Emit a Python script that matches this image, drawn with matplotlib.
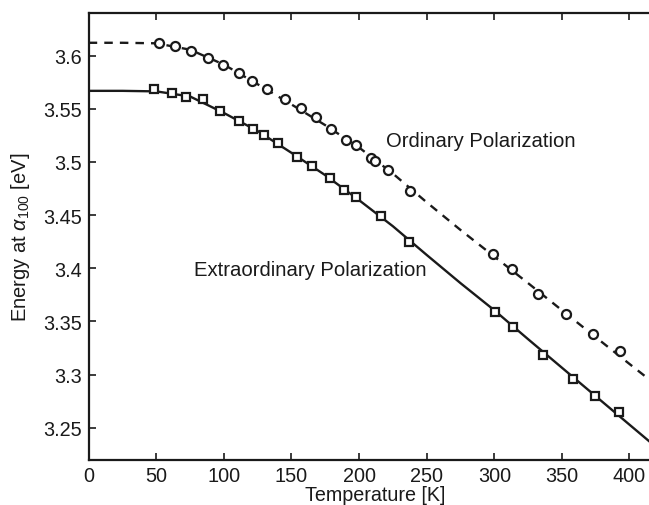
import matplotlib
matplotlib.use("Agg")
import matplotlib.pyplot as plt

plt.rcParams['font.family'] = ['Liberation Sans', 'DejaVu Sans']
plt.rcParams['mathtext.fontset'] = 'custom'
plt.rcParams['mathtext.rm'] = 'Liberation Sans'
plt.rcParams['mathtext.it'] = 'Liberation Sans:italic'

# measured points, ordinary polarization (circles)
temp_ord = [52, 64, 76, 88.5, 99, 111, 121, 132, 145, 157, 168, 179, 190, 198,
            208.5, 212, 221.5, 238, 299, 313, 332.5, 353, 373, 393]
energy_ord = [3.6119, 3.6088, 3.6047, 3.5978, 3.5913, 3.5838, 3.5763, 3.5681,
              3.5587, 3.5507, 3.5419, 3.5306, 3.5207, 3.5156, 3.5038, 3.5010,
              3.4922, 3.4729, 3.4132, 3.3994, 3.3759, 3.3569, 3.3382, 3.3219]

# measured points, extraordinary polarization (squares)
temp_ext = [48, 61.5, 72, 84.5, 97, 111.5, 121.5, 130, 140, 154, 165.5, 178.5,
            189, 198, 216, 237, 300.5, 313.5, 336, 358.5, 374.5, 392]
energy_ext = [3.5681, 3.5650, 3.5606, 3.5588, 3.5475, 3.5388, 3.5306, 3.5257,
              3.5182, 3.5044, 3.4959, 3.4844, 3.4732, 3.4666, 3.4494, 3.4251,
              3.3588, 3.3444, 3.3187, 3.2960, 3.2797, 3.2647]

# fitted curves
fit_temp = [0, 25, 50, 75, 100, 125, 150, 175, 200, 225, 250, 275, 300, 325,
            350, 375, 400, 410, 423]
fit_ord = [3.6120, 3.6120, 3.6115, 3.6055, 3.5915, 3.5730, 3.5540, 3.5345,
           3.5135, 3.4890, 3.4620, 3.4360, 3.4110, 3.3860, 3.3605, 3.3352,
           3.3100, 3.3000, 3.2870]
fit_ext = [3.5668, 3.5668, 3.5663, 3.5615, 3.5460, 3.5290, 3.5085, 3.4875,
           3.4640, 3.4395, 3.4125, 3.3860, 3.3605, 3.3333, 3.3065, 3.2797,
           3.2529, 3.2422, 3.2283]

ink = '#1a1a1a'
fig = plt.figure(figsize=(6.49, 5.06), dpi=100)
ax = fig.add_axes([88.7 / 649, 1 - 461 / 506, (661 - 88.7) / 649, (461 - 14) / 506])

ax.plot(fit_temp, fit_ord, '--', color=ink, lw=1.7, dashes=(3.6, 3))
ax.plot(fit_temp, fit_ext, '-', color=ink, lw=1.7)
ax.plot(temp_ord, energy_ord, 'o', mfc='white', mec=ink, mew=1.6, ms=6.5)
ax.plot(temp_ext, energy_ext, 's', mfc='white', mec=ink, mew=1.6, ms=5.5)

ax.text(220, 3.520, 'Ordinary Polarization', fontsize=14.6, color=ink, va='center')
ax.text(78, 3.399, 'Extraordinary Polarization', fontsize=14.6, color=ink, va='center')

ax.set_xlim(0, 423.3)
ax.set_ylim(3.2197, 3.64)
ax.set_xticks(range(0, 401, 50))
ax.set_yticks([3.25, 3.3, 3.35, 3.4, 3.45, 3.5, 3.55, 3.6])
ax.set_yticklabels(['3.25', '3.3', '3.35', '3.4', '3.45', '3.5', '3.55', '3.6'])
ax.tick_params(direction='in', length=5, width=1.2, labelsize=14.3,
               colors=ink, top=True, right=False)
ax.tick_params(axis='x', pad=4)
ax.tick_params(axis='y', pad=5)
for side in ('left', 'bottom', 'top'):
    ax.spines[side].set_linewidth(1.6)
    ax.spines[side].set_color(ink)
ax.spines['right'].set_visible(False)

ax.set_xlabel('Temperature [K]', fontsize=14.2, color=ink, labelpad=0.5)
ax.set_ylabel(r'Energy at $\alpha_{100}$ [eV]', fontsize=14.5, color=ink, labelpad=8)

fig.savefig('out.png', dpi=100)
